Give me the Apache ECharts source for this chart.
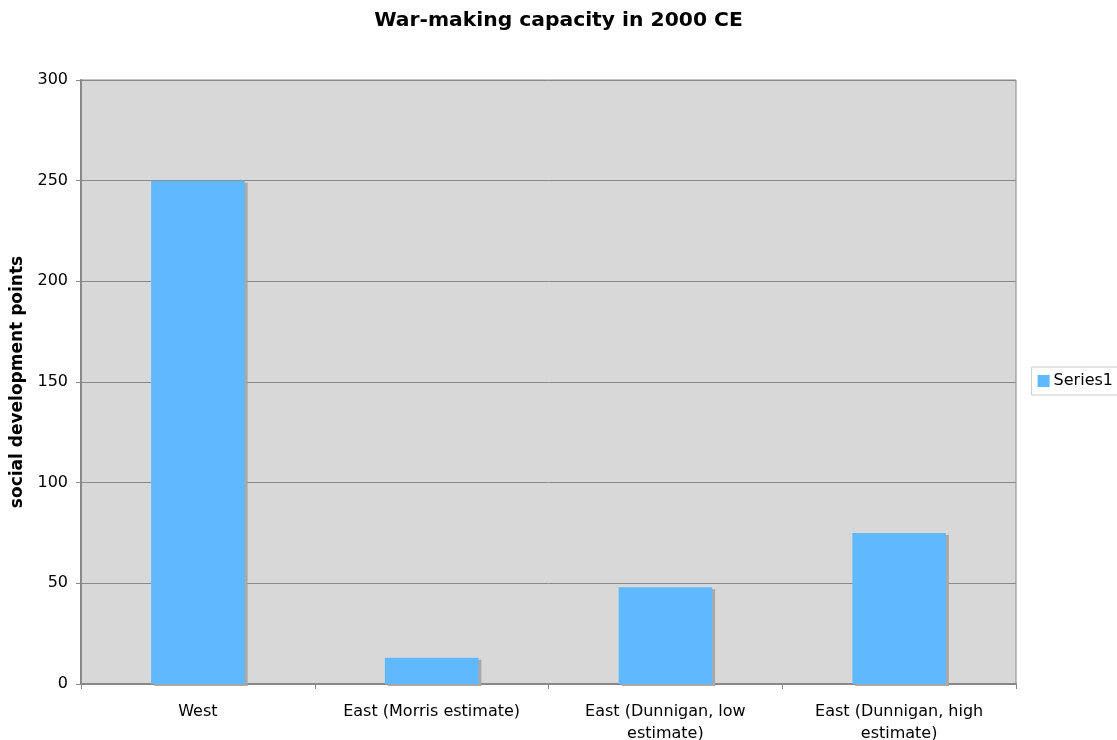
<!DOCTYPE html>
<html><head><meta charset="utf-8">
<script src="https://cdn.jsdelivr.net/npm/echarts@6/dist/echarts.min.js"></script>
<style>html,body{margin:0;padding:0;background:#fff}#c{width:1117px;height:740px}</style>
</head><body><div id="c"></div>
<script>
const categories = ['West', 'East (Morris estimate)', 'East (Dunnigan, low\nestimate)', 'East (Dunnigan, high\nestimate)'];
const series1 = [250, 13, 48, 75];
const yTicks = [0, 50, 100, 150, 200, 250, 300];

const chart = echarts.init(document.getElementById('c'));
chart.setOption({
  animation: false,
  backgroundColor: '#fff',
  title: {
    text: 'War-making capacity in 2000 CE', left: 'center', top: 6,
    textStyle: {fontFamily: 'DejaVu Sans', fontSize: 20.3, fontWeight: 'bold', color: '#000'}
  },
  legend: {
    orient: 'vertical', right: -2, top: 367, itemWidth: 12, itemHeight: 12, itemGap: 0,
    padding: [6, 6, 6, 6], borderColor: '#ccc', borderWidth: 1,
    textStyle: {fontFamily: 'DejaVu Sans', fontSize: 16, color: '#000', padding: [0,0,0,-1]},
    data: [{name: 'Series1', icon: 'rect', itemStyle: {borderWidth: 0}}]
  },
  grid: {left: 81, right: 101, top: 80, bottom: 56, outerBoundsMode: 'none', containLabel: false,
    show: true, backgroundColor: '#d8d8d8', borderColor: '#888', borderWidth: 1},
  xAxis: {
    type: 'category', data: categories,
    axisLine: {lineStyle: {color: '#888', width: 2}},
    axisTick: {show: true, length: 5, lineStyle: {color: '#888'}},
    axisLabel: {fontFamily: 'DejaVu Sans', fontSize: 16, color: '#000', margin: 17, lineHeight: 22}
  },
  yAxis: {
    type: 'value', min: 0, max: 300, interval: 50,
    name: 'social development points', nameLocation: 'middle', nameGap: 54, nameRotate: 90,
    nameTextStyle: {fontFamily: 'DejaVu Sans', fontSize: 17, fontWeight: 'bold', color: '#000'},
    axisLine: {show: true, lineStyle: {color: '#888', width: 2}},
    axisTick: {show: true, length: 5, lineStyle: {color: '#888'}},
    axisLabel: {fontFamily: 'DejaVu Sans', fontSize: 16, color: '#000', margin: 13,
      formatter: v => yTicks.includes(v) ? String(v) : ''},
    splitLine: {lineStyle: {color: '#8a8a8a', width: 1}}
  },
  series: [{
    name: 'Series1', type: 'bar', data: series1, barWidth: '40%',
    itemStyle: {color: '#60b9ff', borderWidth: 0,
      shadowColor: '#a8a8a8', shadowOffsetX: 3, shadowOffsetY: 2, shadowBlur: 0}
  }]
});
</script></body></html>
